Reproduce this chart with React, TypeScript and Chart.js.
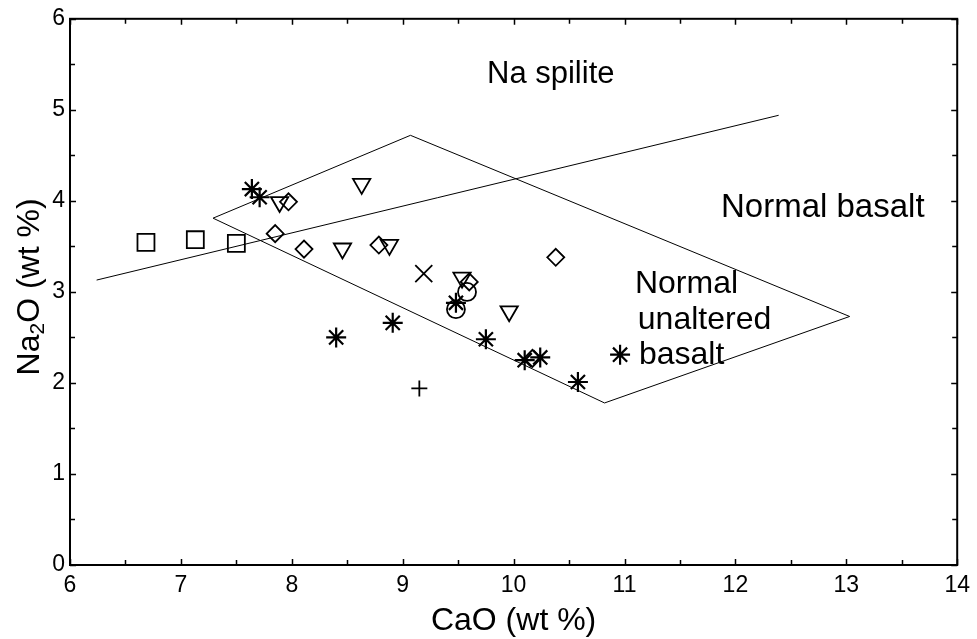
import React, { useEffect, useRef } from 'react';
import { Chart, registerables } from 'chart.js';

Chart.register(...registerables);

const FONT = "'Liberation Sans', Arial, Helvetica, sans-serif";

// ---- axes ----
const xTickValues = [6, 7, 8, 9, 10, 11, 12, 13, 14];
const xTickLabels = ['6', '7', '8', '9', '10', '11', '12', '13', '14'];
const yTickValues = [0, 1, 2, 3, 4, 5, 6];
const yTickLabels = ['0', '1', '2', '3', '4', '5', '6'];
const xTitle = 'CaO (wt %)';
const yTitleParts = ['Na', '2', 'O (wt %)'];

// ---- samples (CaO, Na2O) ----
const squareX = [6.685, 7.13, 7.5];
const squareY = [3.544, 3.573, 3.533];
const asteriskX = [7.64, 7.71, 8.4, 8.91, 9.48, 9.75, 10.1, 10.24, 10.58, 10.96];
const asteriskY = [4.13, 4.04, 2.5, 2.66, 2.88, 2.48, 2.25, 2.28, 2.01, 2.31];
const diamondX = [7.97, 7.85, 8.11, 8.785, 9.6, 10.38, 10.17];
const diamondY = [3.99, 3.64, 3.47, 3.515, 3.11, 3.38, 2.27];
const triangleX = [7.89, 8.63, 8.457, 8.88, 9.535, 9.96];
const triangleY = [3.987, 4.187, 3.477, 3.517, 3.157, 2.787];
const crossX = [9.19];
const crossY = [3.2];
const circleX = [9.58, 9.48];
const circleY = [3.0, 2.81];
const plusX = [9.15];
const plusY = [1.94];

// ---- discrimination fields ----
const spiliteLineX = [6.24, 12.39];
const spiliteLineY = [3.13, 4.94];
const fieldX = [7.29, 9.07, 13.03, 10.82, 7.29];
const fieldY = [3.81, 4.72, 2.73, 1.78, 3.81];

// ---- field labels (left x, baseline y in data units) ----
const labelTexts = ['Na spilite', 'Normal basalt', 'Normal', 'unaltered', 'basalt'];
const labelX = [9.76, 11.87, 11.094, 11.12, 11.13];
const labelY = [5.29, 3.828, 2.99, 2.59, 2.203];

const pts = (xs: number[], ys: number[]) => xs.map((x, i) => ({ x, y: ys[i] }));

const markerDataset = (data: any[], style: string, radius: number, rotation = 0, width = 1.8) => ({
  data,
  showLine: false,
  pointStyle: style,
  pointRadius: radius,
  pointHoverRadius: radius,
  pointRotation: rotation,
  pointBorderColor: '#000',
  pointBackgroundColor: 'rgba(0,0,0,0)',
  pointBorderWidth: width,
});

const lineDataset = (data: any[]) => ({
  data,
  showLine: true,
  borderColor: '#000',
  borderWidth: 1,
  pointRadius: 0,
  pointHoverRadius: 0,
  fill: false,
  tension: 0,
});

const framePlugin = {
  id: 'frame',
  afterDatasetsDraw(chart: any) {
    const { ctx, chartArea: a, scales } = chart;
    const xs = scales.x;
    const ys = scales.y;
    ctx.save();
    ctx.strokeStyle = '#000';
    ctx.lineWidth = 2;
    ctx.strokeRect(a.left, a.top, a.right - a.left, a.bottom - a.top);
    ctx.lineWidth = 1.5;
    ctx.beginPath();
    for (let v = xs.min; v <= xs.max + 1e-9; v += 0.5) {
      const p = Math.round(xs.getPixelForValue(v)) + 0.5;
      const len = Number.isInteger(v) ? 6 : 5;
      ctx.moveTo(p, a.bottom);
      ctx.lineTo(p, a.bottom - len);
      ctx.moveTo(p, a.top);
      ctx.lineTo(p, a.top + len);
    }
    for (let v = ys.min; v <= ys.max + 1e-9; v += 0.5) {
      const p = Math.round(ys.getPixelForValue(v)) + 0.5;
      const len = Number.isInteger(v) ? 6 : 5;
      ctx.moveTo(a.left, p);
      ctx.lineTo(a.left + len, p);
      ctx.moveTo(a.right, p);
      ctx.lineTo(a.right - len, p);
    }
    ctx.stroke();

    // field labels
    ctx.fillStyle = '#000';
    ctx.textBaseline = 'alphabetic';
    ctx.textAlign = 'left';
    const sizes = [31, 33, 32, 32, 32];
    labelTexts.forEach((t, i) => {
      ctx.font = `${sizes[i]}px ${FONT}`;
      ctx.fillText(t, xs.getPixelForValue(labelX[i]), ys.getPixelForValue(labelY[i]));
    });

    // x title
    ctx.font = `32px ${FONT}`;
    ctx.textAlign = 'center';
    ctx.fillText(xTitle, (a.left + a.right) / 2, a.bottom + 65);

    // y title with subscript
    const big = `32px ${FONT}`;
    const small = `21px ${FONT}`;
    ctx.font = big;
    const w0 = ctx.measureText(yTitleParts[0]).width;
    const w2 = ctx.measureText(yTitleParts[2]).width;
    ctx.font = small;
    const w1 = ctx.measureText(yTitleParts[1]).width;
    const total = w0 + w1 + w2;
    ctx.translate(39, (a.top + a.bottom) / 2 - 5);
    ctx.rotate(-Math.PI / 2);
    ctx.textAlign = 'left';
    let cx = -total / 2;
    ctx.font = big;
    ctx.fillText(yTitleParts[0], cx, 0);
    cx += w0;
    ctx.font = small;
    ctx.fillText(yTitleParts[1], cx, 5);
    cx += w1;
    ctx.font = big;
    ctx.fillText(yTitleParts[2], cx, 0);
    ctx.restore();
  },
};

export default function App() {
  const ref = useRef<HTMLCanvasElement | null>(null);
  useEffect(() => {
    if (!ref.current) return;
    const chart = new Chart(ref.current, {
      type: 'scatter',
      data: {
        datasets: [
          lineDataset(pts(spiliteLineX, spiliteLineY)),
          lineDataset(pts(fieldX, fieldY)),
          markerDataset(pts(squareX, squareY), 'rect', 12),
          markerDataset(pts(diamondX, diamondY), 'rectRot', 8.5),
          markerDataset(pts(triangleX, triangleY), 'triangle', 10, 180),
          markerDataset(pts(crossX, crossY), 'crossRot', 12),
          markerDataset(pts(circleX, circleY), 'circle', 9),
          markerDataset(pts(plusX, plusY), 'cross', 8),
          markerDataset(pts(asteriskX, asteriskY), 'star', 10, 0, 2.2),
        ] as any,
      },
      options: {
        animation: false,
        responsive: true,
        maintainAspectRatio: false,
        layout: { padding: { left: 8, right: 12, top: 15, bottom: 0 } },
        plugins: {
          legend: { display: false },
          tooltip: { enabled: false },
        },
        scales: {
          x: {
            type: 'linear',
            min: 6,
            max: 14,
            grid: { display: false, drawTicks: false },
            border: { display: false },
            ticks: {
              stepSize: 1,
              color: '#000',
              padding: 7,
              maxRotation: 0,
              font: { family: FONT, size: 23 },
              callback: (v: any) => {
                const i = xTickValues.indexOf(Number(v));
                return i >= 0 ? xTickLabels[i] : '';
              },
            },
            afterFit: (s: any) => {
              s.height = 74;
            },
          },
          y: {
            type: 'linear',
            min: 0,
            max: 6,
            grid: { display: false, drawTicks: false },
            border: { display: false },
            ticks: {
              stepSize: 1,
              color: '#000',
              padding: 5,
              font: { family: FONT, size: 23 },
              callback: (v: any) => {
                const i = yTickValues.indexOf(Number(v));
                return i >= 0 ? yTickLabels[i] : '';
              },
            },
            afterFit: (s: any) => {
              s.width = 62;
            },
          },
        },
      } as any,
      plugins: [framePlugin],
    });
    return () => chart.destroy();
  }, []);
  return (
    <div style={{ position: 'absolute', left: 0, top: 0, width: 977, height: 639, background: '#fff' }}>
      <canvas ref={ref} />
    </div>
  );
}
